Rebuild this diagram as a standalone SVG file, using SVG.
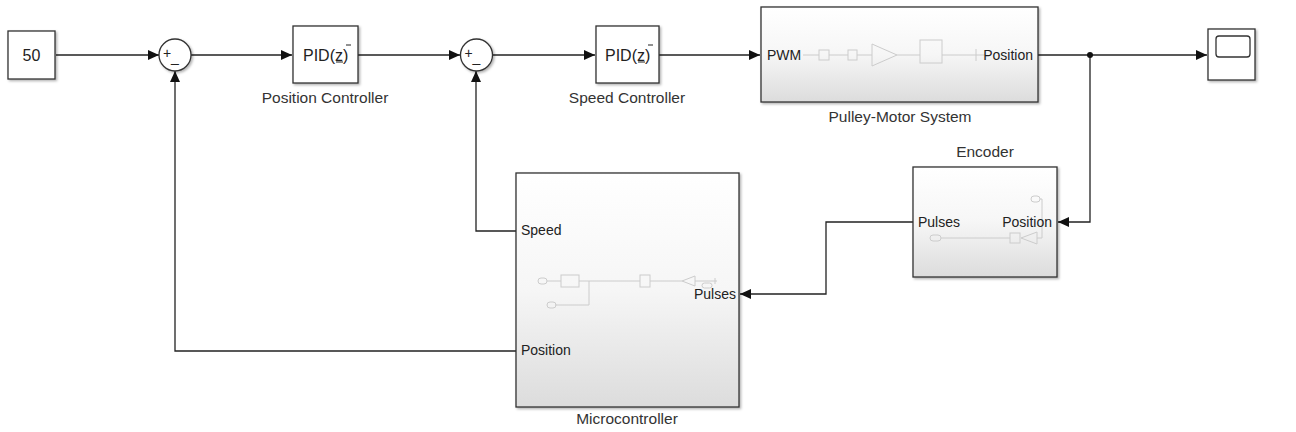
<svg xmlns="http://www.w3.org/2000/svg" width="1296" height="432" viewBox="0 0 1296 432">
<style>
.blk{fill:#fff;stroke:#333;stroke-width:1.3}
.sub{fill:url(#g);stroke:#333;stroke-width:1.3}
.t{font-family:"Liberation Sans",Arial,sans-serif;font-size:14px;fill:#222}
.lb{font-family:"Liberation Sans",Arial,sans-serif;font-size:15.5px;fill:#333}
.tb{font-family:"Liberation Sans",Arial,sans-serif;font-size:16px;fill:#222}
.w{fill:none;stroke:#222;stroke-width:1.3}
.faint{fill:none;stroke:#ccc;stroke-width:1}
</style>
<defs>
<linearGradient id="g" x1="0" y1="0" x2="0" y2="1"><stop offset="0" stop-color="#ffffff"/><stop offset="0.5" stop-color="#f6f6f6"/><stop offset="1" stop-color="#dcdcdc"/></linearGradient>
<filter id="sh" x="-10%" y="-10%" width="130%" height="130%"><feDropShadow dx="1.5" dy="1.5" stdDeviation="1.2" flood-color="#000" flood-opacity="0.3"/></filter>
<marker id="a" markerWidth="12" markerHeight="10" refX="11" refY="5" orient="auto" markerUnits="userSpaceOnUse"><path d="M0,0 L11,5 L0,10 z" fill="#111"/></marker>
</defs>
<rect width="1296" height="432" fill="#fff"/>
<g id="connectors">
<path class="w" d="M56,55 H159" marker-end="url(#a)"/>
<path class="w" d="M191,55 H292" marker-end="url(#a)"/>
<path class="w" d="M358,55 H460" marker-end="url(#a)"/>
<path class="w" d="M492,55 H595" marker-end="url(#a)"/>
<path class="w" d="M659,55 H760" marker-end="url(#a)"/>
<path class="w" d="M1038,55 H1207" marker-end="url(#a)"/>
<path class="w" d="M1090,55 V222 H1058" marker-end="url(#a)"/>
<circle cx="1090" cy="55" r="3" fill="#111"/>
<path class="w" d="M913,222 H826 V294 H740" marker-end="url(#a)"/>
<path class="w" d="M516,231 H476 V71" marker-end="url(#a)"/>
<path class="w" d="M516,351 H175 V71" marker-end="url(#a)"/>
</g>
<g id="const50">
<rect class="blk" x="8" y="31" width="47" height="48" filter="url(#sh)"/>
<text class="tb" x="31.5" y="61" text-anchor="middle">50</text>
</g>
<g id="sum1">
<circle class="blk" cx="175" cy="55" r="16" filter="url(#sh)"/>
<text class="t" x="163" y="58" font-size="12">+</text>
<text class="t" x="171" y="62" font-size="12">_</text>
</g>
<g id="pid1">
<rect class="blk" x="293" y="26" width="65" height="57" filter="url(#sh)"/>
<text class="tb" x="303" y="61">PID(z)</text>
<path d="M336,62 H343 M346,45 H351" stroke="#222" stroke-width="1" fill="none"/>
<text class="lb" x="325" y="103" text-anchor="middle">Position Controller</text>
</g>
<g id="sum2">
<circle class="blk" cx="476.5" cy="55" r="16" filter="url(#sh)"/>
<text class="t" x="464.5" y="58" font-size="12">+</text>
<text class="t" x="472.5" y="62" font-size="12">_</text>
</g>
<g id="pid2">
<rect class="blk" x="596" y="26" width="63" height="57" filter="url(#sh)"/>
<text class="tb" x="605" y="61">PID(z)</text>
<path d="M638,62 H645 M648,45 H653" stroke="#222" stroke-width="1" fill="none"/>
<text class="lb" x="627" y="103" text-anchor="middle">Speed Controller</text>
</g>
<g id="pulley">
<rect class="sub" x="761" y="7" width="277" height="95" filter="url(#sh)"/>
<path class="faint" d="M803,55 H819 M829,55 H848 M857,55 H872 M897,55 H920 M942,55 H985 M976,49 V61"/>
<rect class="faint" x="819" y="50" width="10" height="10"/>
<rect class="faint" x="848" y="50" width="9" height="10"/>
<path class="faint" d="M872,44 L897,55 L872,66 z"/>
<rect class="faint" x="920" y="40" width="22" height="23"/>
<text class="t" x="767" y="60">PWM</text>
<text class="t" x="1033" y="60" text-anchor="end">Position</text>
<text class="lb" x="900" y="122" text-anchor="middle">Pulley-Motor System</text>
</g>
<g id="scope">
<rect class="blk" x="1208" y="29" width="47" height="51" filter="url(#sh)"/>
<rect x="1216" y="36" width="34" height="21" rx="3" fill="#fff" stroke="#333" stroke-width="1.3"/>
</g>
<g id="encoder">
<rect class="sub" x="913" y="167" width="144" height="110" filter="url(#sh)"/>
<text class="lb" x="985" y="157" text-anchor="middle">Encoder</text>
<path class="faint" d="M941,238 H1010 M1037,238 H1042 V199 H1040"/>
<rect class="faint" x="930" y="235" width="11" height="6" rx="3"/>
<rect class="faint" x="1010" y="233" width="10" height="10"/>
<path class="faint" d="M1037,232 L1021,238 L1037,244 z"/>
<rect class="faint" x="1031" y="196" width="9" height="6" rx="3"/>
<text class="t" x="918" y="227">Pulses</text>
<text class="t" x="1052" y="227" text-anchor="end">Position</text>
</g>
<g id="microcontroller">
<rect class="sub" x="516" y="173" width="223" height="234" filter="url(#sh)"/>
<path class="faint" d="M547,281 H561 M579,281 H640 M650,281 H682 M695,281 H717 M715,278 V284 M589,281 V305 H555"/>
<rect class="faint" x="538" y="278" width="9" height="6" rx="3"/>
<rect class="faint" x="561" y="275" width="18" height="12"/>
<rect class="faint" x="640" y="275" width="10" height="12"/>
<path class="faint" d="M695,276 L682,281 L695,286 z"/>
<rect class="faint" x="702" y="283" width="10" height="5" rx="2.5"/>
<rect class="faint" x="547" y="302" width="9" height="6" rx="3"/>
<text class="t" x="521" y="235">Speed</text>
<text class="t" x="521" y="355">Position</text>
<text class="t" x="736" y="299" text-anchor="end">Pulses</text>
<text class="lb" x="627" y="424" text-anchor="middle">Microcontroller</text>
</g>
</svg>
